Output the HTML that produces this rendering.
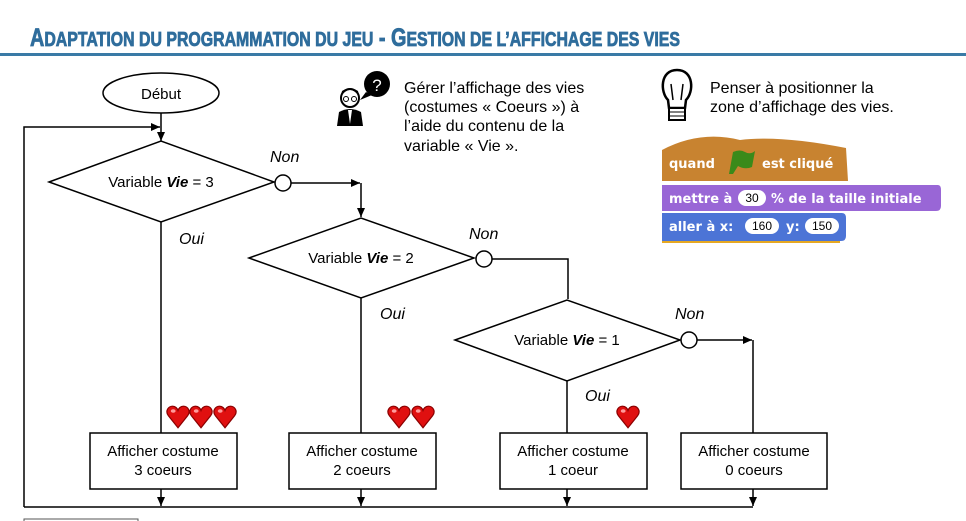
<!DOCTYPE html>
<html><head><meta charset="utf-8"><style>
html,body{margin:0;padding:0;background:#fff;width:966px;height:521px;overflow:hidden}
svg{display:block}
text{font-family:"Liberation Sans",sans-serif}
.s{font-family:"DejaVu Sans",sans-serif;font-weight:bold;font-size:13px;fill:#fff}
</style></head><body>
<svg width="966" height="521" viewBox="0 0 966 521" xmlns="http://www.w3.org/2000/svg">
<defs>
<marker id="a" markerWidth="10" markerHeight="10" refX="9" refY="5" orient="auto" markerUnits="userSpaceOnUse"><path d="M0,1 L9,5 L0,9 z" fill="#000"/></marker>
<symbol id="h" viewBox="0 0 20 20"><path d="M10,19 L2,9 C-1,5 2,1 5.5,1 C8,1 9.5,3 10,4.5 C10.5,3 12,1 14.5,1 C18,1 21,5 18,9 Z" fill="#e01010" stroke="#8a0000" stroke-width="1"/><ellipse cx="6" cy="5" rx="2" ry="1.5" fill="#ff9b9b"/></symbol>
</defs>
<!-- title -->
<text x="30" y="46" font-weight="bold" font-size="25" fill="#2f6d9c" stroke="#2f6d9c" stroke-width="0.8" textLength="650" lengthAdjust="spacingAndGlyphs">A<tspan font-size="20">DAPTATION DU PROGRAMMATION DU JEU</tspan> - G<tspan font-size="20">ESTION DE L’AFFICHAGE DES VIES</tspan></text>
<rect x="0" y="53" width="966" height="3" fill="#3a7aa6"/>

<!-- Debut -->
<ellipse cx="161" cy="93" rx="58" ry="20" fill="#fff" stroke="#000" stroke-width="1.5"/>
<text x="161" y="99" font-size="15" text-anchor="middle">Début</text>
<line x1="161" y1="113" x2="161" y2="141" stroke="#000" stroke-width="1.5" marker-end="url(#a)"/>
<polyline points="24,507 24,127 160,127" fill="none" stroke="#000" stroke-width="1.5" marker-end="url(#a)"/>

<!-- diamonds -->
<g stroke="#000" stroke-width="1.5" fill="#fff">
<polygon points="49,182 161,141 274,182 161,222"/>
<polygon points="249,258 361,218 474,258 361,298"/>
<polygon points="455,340 567,300 680,340 567,381"/>
</g>
<g font-size="15" text-anchor="middle">
<text x="161" y="187">Variable <tspan font-weight="bold" font-style="italic">Vie</tspan> = 3</text>
<text x="361" y="263">Variable <tspan font-weight="bold" font-style="italic">Vie</tspan> = 2</text>
<text x="567" y="345">Variable <tspan font-weight="bold" font-style="italic">Vie</tspan> = 1</text>
</g>
<g fill="none" stroke="#000" stroke-width="1.5">
<polyline points="291,183 360,183" marker-end="url(#a)"/>
<line x1="361" y1="183" x2="361" y2="217" marker-end="url(#a)"/>
<polyline points="492,259 568,259 568,299"/>
<polyline points="697,340 752,340" marker-end="url(#a)"/>
<line x1="753" y1="340" x2="753" y2="433"/>
<line x1="161" y1="222" x2="161" y2="433"/>
<line x1="361" y1="298" x2="361" y2="433"/>
<line x1="567" y1="381" x2="567" y2="433"/>
<line x1="24" y1="507" x2="753" y2="507"/>
<line x1="161" y1="489" x2="161" y2="506" marker-end="url(#a)"/>
<line x1="361" y1="489" x2="361" y2="506" marker-end="url(#a)"/>
<line x1="567" y1="489" x2="567" y2="506" marker-end="url(#a)"/>
<line x1="753" y1="489" x2="753" y2="506" marker-end="url(#a)"/>
</g>
<g fill="#fff" stroke="#000" stroke-width="1.5">
<circle cx="283" cy="183" r="8"/><circle cx="484" cy="259" r="8"/><circle cx="689" cy="340" r="8"/>
</g>
<g font-size="16" font-style="italic">
<text x="270" y="162">Non</text><text x="469" y="239">Non</text><text x="675" y="319">Non</text>
<text x="179" y="244">Oui</text><text x="380" y="319">Oui</text><text x="585" y="401">Oui</text>
</g>
<!-- boxes -->
<g fill="#fff" stroke="#000" stroke-width="1.5">
<rect x="90" y="433" width="147" height="56"/><rect x="289" y="433" width="147" height="56"/>
<rect x="500" y="433" width="147" height="56"/><rect x="681" y="433" width="146" height="56"/>
</g>
<g font-size="15" text-anchor="middle">
<text x="163" y="456">Afficher costume</text><text x="163" y="475">3 coeurs</text>
<text x="362" y="456">Afficher costume</text><text x="362" y="475">2 coeurs</text>
<text x="573" y="456">Afficher costume</text><text x="573" y="475">1 coeur</text>
<text x="754" y="456">Afficher costume</text><text x="754" y="475">0 coeurs</text>
</g>
<!-- hearts -->
<use href="#h" x="166" y="405" width="24" height="24"/><use href="#h" x="189" y="405" width="24" height="24"/><use href="#h" x="213" y="405" width="24" height="24"/>
<use href="#h" x="387" y="405" width="24" height="24"/><use href="#h" x="411" y="405" width="24" height="24"/>
<use href="#h" x="616" y="405" width="24" height="24"/>
<rect x="24" y="519" width="114" height="4" fill="none" stroke="#555" stroke-width="1"/>

<!-- person icon -->
<circle cx="377" cy="84" r="13" fill="#000"/><path d="M366,92 L360,100 L372,95 Z" fill="#000"/>
<text x="377" y="91" font-size="17" fill="#fff" text-anchor="middle">?</text>
<circle cx="350" cy="98" r="9" fill="#fff" stroke="#000" stroke-width="2"/>
<path d="M341,96 Q350,84 359,96 L358,91 Q350,86 342,91Z" fill="#000"/>
<circle cx="346" cy="99" r="2.5" fill="none" stroke="#000"/><circle cx="354" cy="99" r="2.5" fill="none" stroke="#000"/>
<path d="M337,126 L339,112 Q350,106 361,112 L363,126 Z" fill="#000"/><path d="M348,110 L350,124 L352,110 Z" fill="#fff"/>
<g font-size="16"><text x="404" y="93">Gérer l’affichage des vies</text><text x="404" y="112">(costumes « Coeurs ») à</text><text x="404" y="131">l’aide du contenu de la</text><text x="404" y="151">variable « Vie ».</text></g>

<!-- bulb -->
<path d="M668,100 C660,92 660,70 677,70 C694,70 694,92 686,100 L685,108 L669,108 Z" fill="#fff" stroke="#000" stroke-width="2.5"/>
<path d="M671,84 L673,100 M683,84 L681,100" stroke="#000" stroke-width="1.5"/>
<rect x="669" y="108" width="16" height="12" fill="#fff" stroke="#000" stroke-width="2"/>
<path d="M669,112 H685 M669,116 H685" stroke="#000"/>
<g font-size="16"><text x="710" y="93">Penser à positionner la</text><text x="710" y="112">zone d’affichage des vies.</text></g>

<!-- scratch -->
<rect x="662" y="239" width="178" height="4" fill="#e6a822"/>
<path d="M662,150 Q700,130 740,140 Q780,135 846,148 L848,181 L662,181 Z" fill="#c88330"/>
<path d="M662,185 H938 Q941,185 941,190 V206 Q941,211 936,211 H662 Z" fill="#9966d6"/>
<path d="M662,213 H842 Q846,213 846,218 V236 Q846,241 841,241 H662 Z" fill="#4c74d6"/>
<path d="M729,174 L733,152 Q740,149 745,152 Q750,155 755,151 L752,167 Q745,170 738,166 L733,174Z" fill="#3a8a1a"/>
<text class="s" x="669" y="168">quand</text><text class="s" x="762" y="168">est cliqué</text>
<text class="s" x="669" y="203">mettre à</text><rect x="738" y="190" width="28" height="16" rx="8" fill="#fff"/><text x="752" y="202" font-size="12" text-anchor="middle">30</text>
<text class="s" x="771" y="203">% de la taille initiale</text>
<text class="s" x="669" y="231">aller à x:</text><rect x="745" y="218" width="34" height="16" rx="8" fill="#fff"/><text x="762" y="230" font-size="12" text-anchor="middle">160</text>
<text class="s" x="786" y="231">y:</text><rect x="805" y="218" width="34" height="16" rx="8" fill="#fff"/><text x="822" y="230" font-size="12" text-anchor="middle">150</text>
</svg>
</body></html>
